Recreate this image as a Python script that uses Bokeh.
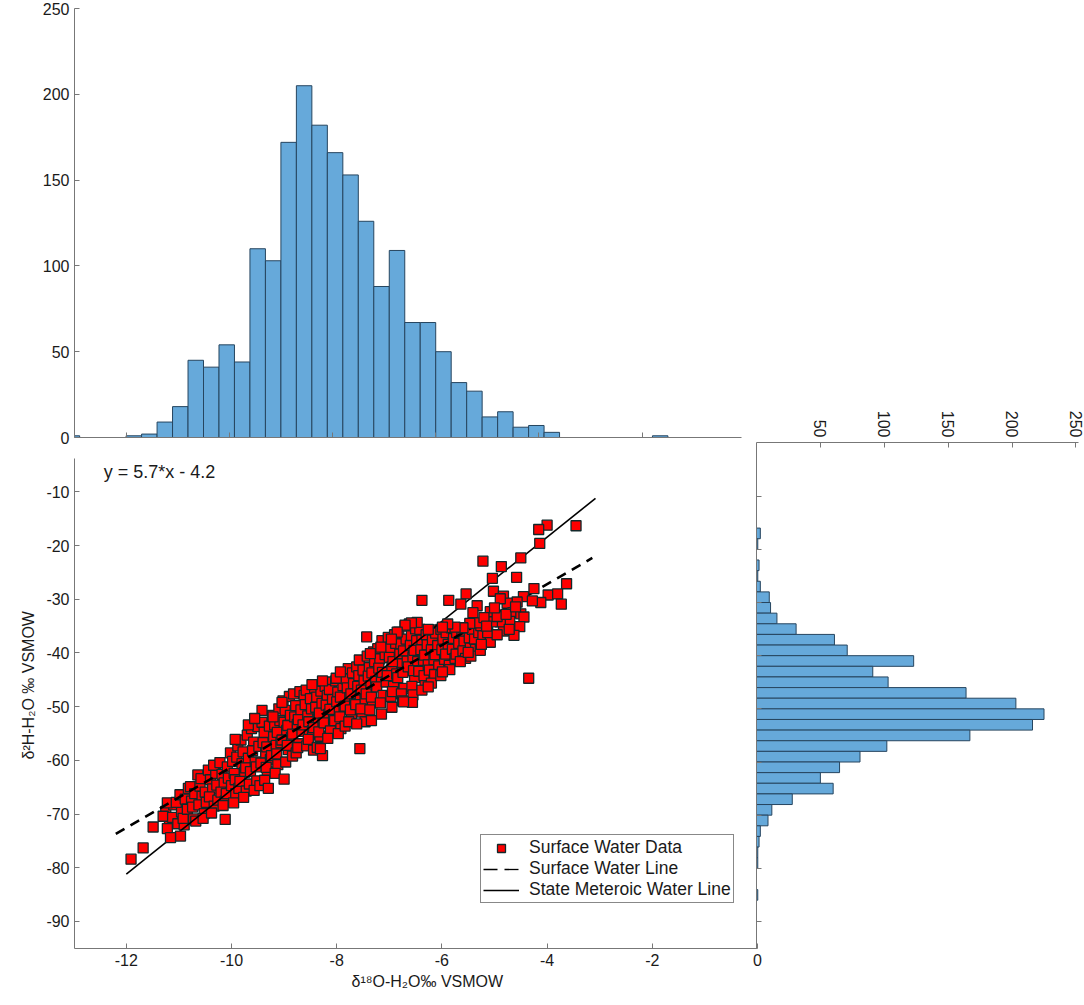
from bokeh.plotting import figure
from bokeh.models import Label, Legend, LegendItem, FixedTicker, Title
from bokeh.layouts import row, column
from bokeh.embed import file_html
from bokeh.resources import INLINE
from math import pi

FONT = "Liberation Sans"

# top histogram: delta-18O
top_left = [-13.2, -12.0, -11.7, -11.4, -11.1, -10.8, -10.5, -10.2, -9.9, -9.6, -9.3, -9.0, -8.7, -8.4, -8.1,
            -7.8, -7.5, -7.2, -6.9, -6.6, -6.3, -6.0, -5.7, -5.4, -5.1, -4.8, -4.5, -4.2, -3.9, -1.8]
top_count = [1, 1, 2, 9, 18, 45, 41, 54, 44, 110, 103, 172, 205, 182, 166,
             153, 126, 88, 109, 67, 67, 50, 32, 27, 12, 15, 6, 7, 3, 1]
top_width = 0.3

# right histogram: delta-2H
right_top = [-16, -18, -22, -24, -26, -28, -30, -32, -34, -36, -38, -40, -42, -44, -46, -48, -50, -52, -54,
             -56, -58, -60, -62, -64, -66, -68, -70, -72, -74, -76, -78, -84]
right_count = [3, 1, 2, 1, 3, 10, 11, 16, 31, 61, 71, 123, 91, 103, 164, 203, 225, 216, 167,
               102, 81, 65, 50, 60, 28, 12, 9, 3, 2, 1, 1, 1]
right_height = 2

# regression lines
smwl_x = [-12.0, -3.08]
smwl_y = [-81.2, -11.2]
swl_x = [-12.2, -3.14]
swl_y = [-73.7, -22.3]
no_data = [float("nan"), float("nan")]

x_ticks = [-12, -10, -8, -6, -4, -2, 0]
y_ticks = [-10, -20, -30, -40, -50, -60, -70, -80, -90]
hist_x_ticks = [-12, -10, -8, -6, -4, -2]

# scatter: dense band
band = [
 (-11.25,-69.5),(-11.18,-71.3),(-11.3,-70.4),(-11.1,-68.3),(-11.12,-70.6),(-11.22,-67.9),
 (-11.02,-71.8),(-10.95,-69.6),(-11.05,-67.8),(-10.9,-72.0),(-10.98,-66.4),(-10.88,-67.2),(-10.92,-70.8),
 (-10.82,-65.2),(-10.76,-67.6),(-10.84,-69.1),(-10.72,-70.9),(-10.78,-64.9),(-10.7,-66.2),(-10.74,-68.7),(-10.68,-71.3),
 (-10.64,-62.7),(-10.6,-64.8),(-10.56,-66.7),(-10.62,-68.3),(-10.52,-69.9),(-10.58,-63.4),(-10.5,-65.9),(-10.48,-67.8),(-10.54,-70.8),
 (-10.44,-61.8),(-10.4,-63.6),(-10.36,-65.3),(-10.42,-66.8),(-10.33,-68.5),(-10.38,-69.8),(-10.3,-62.4),(-10.28,-64.6),(-10.34,-60.9),(-10.26,-67.4),
 (-10.22,-60.4),(-10.18,-62.6),(-10.14,-64.2),(-10.2,-65.9),(-10.12,-67.6),(-10.16,-68.4),(-10.08,-61.2),(-10.06,-63.3),(-10.1,-66.2),
 (-10.02,-58.6),(-9.98,-60.2),(-9.95,-62.4),(-10.0,-64.7),(-9.92,-66.2),(-9.96,-67.9),(-9.9,-59.4),(-9.88,-57.3),(-9.93,-63.6),(-9.86,-65.2),
 (-9.82,-56.2),(-9.78,-58.4),(-9.8,-60.6),(-9.75,-62.2),(-9.84,-63.9),(-9.72,-65.7),(-9.77,-66.9),(-9.7,-55.3),(-9.68,-59.6),(-9.73,-61.4),(-9.66,-64.4),
 (-9.62,-54.1),(-9.58,-56.6),(-9.6,-58.2),(-9.55,-60.3),(-9.64,-62.1),(-9.52,-63.8),(-9.57,-65.6),(-9.5,-53.7),(-9.48,-57.4),(-9.53,-61.2),(-9.46,-64.7),
 (-9.42,-52.9),(-9.38,-54.8),(-9.4,-56.7),(-9.35,-58.6),(-9.44,-60.5),(-9.32,-62.1),(-9.37,-63.7),(-9.3,-65.2),(-9.28,-53.6),(-9.33,-57.5),(-9.26,-59.8),(-9.34,-61.3),
 (-9.22,-51.6),(-9.18,-53.4),(-9.2,-55.6),(-9.15,-57.2),(-9.24,-59.1),(-9.12,-60.8),(-9.17,-62.4),(-9.1,-50.4),(-9.08,-52.6),(-9.13,-54.8),(-9.06,-56.7),(-9.14,-58.8),
 (-9.02,-48.9),(-8.98,-50.7),(-9.0,-52.9),(-8.95,-54.4),(-9.04,-56.2),(-8.92,-58.0),(-8.97,-60.3),(-8.9,-48.1),(-8.88,-51.6),(-8.93,-53.5),(-8.86,-55.7),(-8.94,-57.2),(-8.84,-59.2),
 (-8.82,-47.6),(-8.78,-49.8),(-8.8,-51.9),(-8.75,-53.3),(-8.84,-55.1),(-8.72,-56.9),(-8.77,-58.6),(-8.7,-47.2),(-8.68,-50.6),(-8.73,-52.4),(-8.66,-54.6),(-8.74,-57.6),
 (-8.62,-47.9),(-8.58,-46.9),(-8.6,-49.6),(-8.55,-51.7),(-8.64,-53.4),(-8.52,-55.2),(-8.57,-57.3),(-8.5,-48.5),(-8.48,-50.4),(-8.53,-52.8),(-8.46,-54.4),(-8.54,-56.1),(-8.44,-58.1),
 (-8.42,-46.5),(-8.38,-48.2),(-8.4,-50.1),(-8.35,-52.3),(-8.44,-53.9),(-8.32,-55.5),(-8.37,-57.6),(-8.3,-47.1),(-8.28,-49.4),(-8.33,-51.2),(-8.26,-53.1),(-8.34,-54.7),
 (-8.22,-46.2),(-8.18,-47.9),(-8.2,-49.7),(-8.15,-51.4),(-8.24,-53.0),(-8.12,-54.5),(-8.17,-55.9),(-8.1,-45.4),(-8.08,-48.6),(-8.13,-50.5),(-8.06,-52.4),(-8.14,-46.8),
 (-8.02,-45.2),(-7.98,-47.3),(-8.0,-49.1),(-7.95,-50.8),(-8.04,-52.6),(-7.92,-54.1),(-7.97,-55.0),(-7.9,-44.4),(-7.88,-46.1),(-7.93,-48.2),(-7.86,-50.0),(-7.94,-51.9),(-7.84,-53.6),
 (-7.82,-44.8),(-7.78,-42.9),(-7.8,-46.5),(-7.75,-48.3),(-7.84,-49.9),(-7.72,-51.3),(-7.77,-52.8),(-7.7,-43.7),(-7.68,-45.7),(-7.73,-47.6),(-7.66,-49.4),(-7.74,-50.6),
 (-7.62,-42.6),(-7.58,-44.2),(-7.6,-46.2),(-7.55,-47.9),(-7.64,-49.6),(-7.52,-51.0),(-7.57,-41.3),(-7.5,-43.2),(-7.48,-45.2),(-7.53,-46.9),(-7.46,-48.6),(-7.54,-50.4),
 (-7.42,-40.6),(-7.38,-42.7),(-7.4,-44.3),(-7.35,-46.1),(-7.44,-47.6),(-7.32,-49.3),(-7.37,-50.6),(-7.3,-39.8),(-7.28,-41.6),(-7.33,-43.7),(-7.26,-45.3),(-7.34,-48.2),
 (-7.22,-39.2),(-7.18,-41.1),(-7.2,-42.8),(-7.15,-44.6),(-7.24,-46.3),(-7.12,-47.9),(-7.17,-49.3),(-7.1,-38.3),(-7.08,-40.3),(-7.13,-43.6),(-7.06,-45.4),(-7.14,-37.7),
 (-7.02,-37.1),(-6.98,-39.1),(-7.0,-40.8),(-6.95,-42.6),(-7.04,-44.2),(-6.92,-46.2),(-6.97,-48.1),(-6.9,-36.6),(-6.88,-38.2),(-6.93,-41.6),(-6.86,-43.9),(-6.94,-47.2),
 (-6.82,-36.1),(-6.78,-38.3),(-6.8,-40.2),(-6.75,-42.0),(-6.84,-44.6),(-6.72,-46.6),(-6.77,-47.6),(-6.7,-35.0),(-6.68,-37.4),(-6.73,-39.6),(-6.66,-41.5),(-6.74,-43.6),
 (-6.62,-34.6),(-6.58,-36.8),(-6.6,-38.6),(-6.55,-40.8),(-6.64,-42.6),(-6.52,-44.6),(-6.57,-46.2),(-6.5,-35.5),(-6.48,-37.7),(-6.53,-39.5),(-6.46,-41.6),(-6.54,-43.3),
 (-6.42,-35.6),(-6.38,-37.6),(-6.4,-39.4),(-6.35,-41.4),(-6.44,-43.4),(-6.32,-45.2),(-6.3,-36.6),(-6.28,-38.5),(-6.33,-40.4),(-6.26,-42.2),(-6.34,-44.2),
 (-6.22,-35.7),(-6.18,-37.6),(-6.2,-39.4),(-6.15,-41.3),(-6.24,-43.2),(-6.12,-36.3),(-6.08,-38.6),(-6.13,-40.3),(-6.06,-42.4),(-6.14,-44.0),
 (-6.02,-35.6),(-5.98,-37.4),(-6.0,-39.4),(-5.95,-41.2),(-5.92,-36.2),(-5.88,-38.4),(-5.93,-40.2),(-5.86,-42.3),
 (-5.82,-35.3),(-5.78,-37.3),(-5.8,-39.3),(-5.75,-41.0),(-5.72,-36.2),(-5.68,-38.2),(-5.73,-40.2),
 (-5.62,-36.0),(-5.58,-37.8),(-5.6,-39.6),(-5.55,-41.0),(-5.52,-35.4),(-5.48,-37.2),(-5.46,-39.1),
 (-5.42,-35.6),(-5.38,-37.4),(-5.36,-39.3),(-5.3,-36.2),(-5.26,-34.9),(-5.22,-36.8),
 (-7.15,-51.4),(-6.95,-50.1),(-6.75,-48.9),(-6.55,-47.8),(-6.38,-46.9),(-6.2,-45.6),(-6.02,-44.2),(-5.85,-43.1),
 (-5.65,-41.6),(-5.45,-40.6),(-5.27,-39.5),(-5.5,-39.9),
 (-7.46,-52.8),(-7.62,-53.2),(-7.34,-52.6),(-6.56,-49.2),(-6.26,-46.3),(-6.73,-49.1),(-5.99,-43.5),
 (-8.47,-45.9),(-8.27,-45.2),(-8.01,-44.7),(-7.93,-43.5),(-7.36,-40.1),(-7.16,-38.9),
]

# scatter: points outside the dense band
outliers = [
 (-11.91,-78.4),(-11.68,-76.3),(-11.49,-72.4),(-11.22,-72.7),(-10.97,-74.1),(-11.16,-74.4),(-10.12,-71.0),
 (-7.56,-57.8),(-8.27,-59.1),(-8.31,-57.8),(-9.0,-63.5),(-9.42,-50.7),(-9.68,-53.4),(-9.56,-52.2),(-9.93,-56.1),
 (-9.21,-51.9),(-9.04,-49.2),
 (-3.45,-16.3),(-4.0,-16.2),(-4.16,-17.0),(-4.14,-19.6),(-4.5,-22.3),(-5.22,-22.9),(-4.87,-23.9),(-5.04,-26.1),
 (-4.58,-25.9),(-3.63,-27.1),(-4.25,-28.0),(-5.02,-28.5),(-5.54,-29.0),(-4.83,-29.4),(-6.38,-30.2),(-5.87,-30.2),
 (-5.64,-30.9),(-4.45,-29.5),(-3.98,-29.2),(-3.8,-29.0),(-3.73,-30.9),(-4.12,-30.6),(-4.28,-30.3),(-4.57,-30.5),
 (-4.76,-30.7),(-4.89,-29.9),(-5.33,-31.2),(-4.35,-44.7),(-7.43,-37.0),(-5.41,-32.5),(-5.08,-32.3),(-4.65,-32.5),
 (-4.5,-32.7),(-4.44,-33.3),(-4.71,-34.1),(-4.52,-35.1),(-4.83,-35.9),(-4.63,-36.7),(-5.08,-38.0),(-5.25,-38.4),
 (-5.13,-36.2),(-4.89,-34.2),(-5.04,-34.2),(-5.32,-34.4),(-5.47,-34.5),(-5.6,-35.3),(-5.75,-35.2),(-5.89,-34.6),
 (-5.99,-35.2),(-6.26,-35.6),(-6.47,-34.3),(-6.58,-34.4),(-6.7,-34.8),(-6.85,-36.1),(-6.96,-37.4),
 (-5.2,-33.4),(-4.95,-33.2),(-4.78,-32.8),(-4.6,-31.4),(-5.0,-31.6),(-5.15,-35.0),(-4.95,-36.6),(-4.72,-35.6),
]

BAR = "#66a9da"
BAR_LINE = "#26455f"
AXIS = "#777777"
TEXT = "#1a1a1a"


def style_axis(ax):
    ax.axis_line_color = AXIS
    ax.major_tick_line_color = AXIS
    ax.major_tick_in = 5
    ax.major_tick_out = 0
    ax.minor_tick_line_color = None
    ax.major_label_text_font = FONT
    ax.major_label_text_font_size = "16px"
    ax.major_label_text_color = TEXT
    ax.major_label_standoff = 5


def base(**kw):
    f = figure(output_backend="svg", toolbar_location=None, **kw)
    f.grid.visible = False
    f.outline_line_color = None
    f.border_fill_color = None
    f.background_fill_color = None
    return f


# ---- top histogram
top = base(width=770, height=446, x_range=(-13, 0.236), y_range=(0, 250),
           min_border_left=74, min_border_right=13, min_border_top=8, min_border_bottom=9)
top.quad(left=top_left, right=[v + top_width for v in top_left], bottom=0, top=top_count,
         fill_color=BAR, line_color=BAR_LINE, line_width=1)
for a in top.axis:
    style_axis(a)
top.xaxis.ticker = FixedTicker(ticks=hist_x_ticks)
top.xaxis.bounds = (-13, -0.074)
top.xaxis.major_label_overrides = {t: "" for t in hist_x_ticks}
top.xaxis.major_label_standoff = 0
top.yaxis.ticker = FixedTicker(ticks=[0, 50, 100, 150, 200, 250])

# ---- main scatter
main = base(width=770, height=551, x_range=(-12.985, 0), y_range=(-95.03, -3.78),
            min_border_left=74, min_border_right=13, min_border_top=12, min_border_bottom=49)
band_r = main.scatter([p[0] for p in band], [p[1] for p in band], marker="square", size=10,
                      fill_color="#fe0000", line_color="#12282a", line_width=1.3)
main.line(smwl_x, smwl_y, line_color="black", line_width=1.6)
main.line(swl_x, swl_y, line_color="black", line_width=2.6, line_dash="10 7")
main.scatter([p[0] for p in outliers], [p[1] for p in outliers], marker="square", size=10,
             fill_color="#fe0000", line_color="#12282a", line_width=1.3)
for a in main.axis:
    style_axis(a)
main.xaxis.ticker = FixedTicker(ticks=x_ticks)
main.xaxis.major_label_overrides = {t: str(t) for t in x_ticks}
main.yaxis.ticker = FixedTicker(ticks=y_ticks)
main.yaxis.major_label_overrides = {t: str(t) for t in y_ticks}

main.add_layout(Title(text="δ¹⁸O-H₂O‰  VSMOW", align="left", offset=277, standoff=5,
                      text_font=FONT, text_font_size="16px", text_font_style="normal",
                      text_color=TEXT), "below")
main.add_layout(Title(text="δ²H-H₂O ‰ VSMOW", align="left", offset=189, standoff=14,
                      text_font=FONT, text_font_size="16px", text_font_style="normal",
                      text_color=TEXT), "left")
main.add_layout(Label(x=-12.43, y=-6.33, text="y = 5.7*x - 4.2",
                      text_font=FONT, text_font_size="18px", text_color=TEXT,
                      text_align="left", text_baseline="middle"))

leg_dash = main.line(no_data, no_data, line_color="black", line_width=1.3, line_dash="14 7")
leg_solid = main.line(no_data, no_data, line_color="black", line_width=1.3)
legend = Legend(items=[LegendItem(label="Surface Water Data", renderers=[band_r]),
                       LegendItem(label="Surface Water Line", renderers=[leg_dash]),
                       LegendItem(label="State Meteroic Water Line", renderers=[leg_solid])],
                location=(406, 45), orientation="vertical", margin=0, padding=2, spacing=-2,
                glyph_width=36, glyph_height=20, label_height=20, label_standoff=10,
                label_text_font=FONT, label_text_font_size="17.5px", label_text_color=TEXT,
                border_line_color="#111111", border_line_width=1.4, background_fill_color="white",
                background_fill_alpha=1)
main.add_layout(legend, "center")

# ---- right histogram
right = base(width=328, height=997, x_range=(0, 252), y_range=(-95.08, 0.1),
             x_axis_location="above",
             min_border_left=0, min_border_right=6, min_border_top=442, min_border_bottom=49)
right.quad(left=0, right=right_count, top=right_top, bottom=[v - right_height for v in right_top],
           fill_color=BAR, line_color=BAR_LINE, line_width=1)
for a in right.axis:
    style_axis(a)
right.xaxis.ticker = FixedTicker(ticks=[50, 100, 150, 200, 250])
right.xaxis.major_label_orientation = -pi / 2
right.yaxis.ticker = FixedTicker(ticks=y_ticks)
right.yaxis.major_label_overrides = {t: "" for t in y_ticks}
right.yaxis.major_label_standoff = 0

left_col = column(top, main, spacing=0)
right.margin = (0, 0, 0, -14)
page = row(left_col, right, spacing=0)

open("out.html", "w").write(file_html(page, INLINE))
